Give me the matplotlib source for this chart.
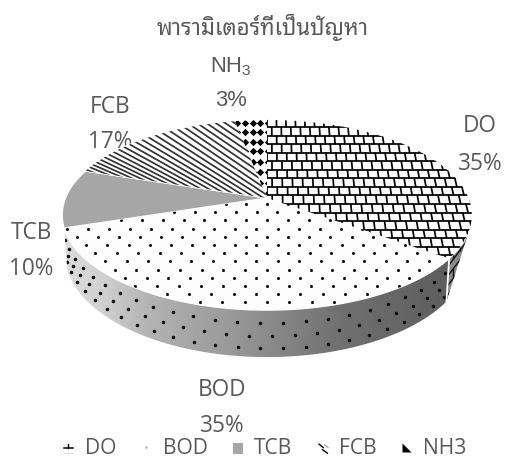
import numpy as np
import matplotlib
matplotlib.use("Agg")
import matplotlib.pyplot as plt
from matplotlib import font_manager as fm
from matplotlib.collections import LineCollection
from matplotlib.legend_handler import HandlerBase
from matplotlib.lines import Line2D
from matplotlib.patches import Polygon, Patch

# Share of each problem parameter (percent)
categories = ["DO", "BOD", "TCB", "FCB", "NH3"]
shares = [35, 35, 10, 17, 3]
label_names = ["DO", "BOD", "TCB", "FCB", "NH$_3$"]
chart_title = "พารามิเตอร์ที่เป็นปัญหา"

installed = {f.name for f in fm.fontManager.ttflist}
thai = [n for n in ["Noto Sans Thai Looped", "Sarabun", "Noto Sans Thai", "Anuphan"] if n in installed]
plt.rcParams["font.family"] = ["Open Sans", "DejaVu Sans"]
plt.rcParams["mathtext.default"] = "regular"
GREY = "#595959"
SIZE = 16.3

# Projection of the pie plane: centre, half axes and perspective strength
CX, CY, A, B, P = 267.0, 198.0, 201.5, 92.0, 0.179
DEPTH = 38.6


def top(theta):
    u, v = np.sin(theta), np.cos(theta)
    w = 1 + P * v
    return CX + A * u / w, CY - B * v / w


def low(theta, narrow=0.985):
    u, v = np.sin(theta), np.cos(theta)
    w = 1 + P * v
    return CX + narrow * A * u / w, CY + (DEPTH - B * v) / w


def texture_x(index, y, pitch, k):
    return CX + index * pitch * (1 + k * (y - 190))


fig = plt.figure(figsize=(5.05, 4.59), dpi=100)
ax = fig.add_axes([0, 0, 1, 1])
ax.set_xlim(0, 505)
ax.set_ylim(459, 0)
ax.axis("off")

edges = np.radians(np.concatenate([[0], np.cumsum(shares)]) * 3.6)
wedges = {}
for name, a0, a1 in zip(categories, edges[:-1], edges[1:]):
    t = np.linspace(a0, a1, 120)
    xs, ys = top(t)
    wedges[name] = np.column_stack([np.r_[CX, xs], np.r_[CY, ys]])

# Side wall, visible along the near part of the rim
side_start = edges[1]
side_end = edges[2]
t = np.linspace(side_start, side_end, 200)
tx, ty = top(t)
lx, ly = low(t)
side_bod = Polygon(np.column_stack([np.r_[tx, lx[::-1]], np.r_[ty, ly[::-1]]]),
                   closed=True, fc="none", ec="none")
ax.add_patch(side_bod)
ramp_x = np.array([60, 100, 150, 230, 340, 460])
ramp_v = np.array([0.87, 0.82, 0.70, 0.60, 0.44, 0.36])
ramp = np.interp(np.linspace(60, 470, 400), ramp_x, ramp_v)[None, :]
grad = ax.imshow(ramp, cmap="gray", vmin=0, vmax=1, extent=(60, 470, 370, 220),
                 aspect="auto", zorder=1, interpolation="bilinear")
grad.set_clip_path(side_bod)
ax.set_xlim(0, 505)
ax.set_ylim(459, 0)

# Dots printed on the side wall
pts = []
for row, z in enumerate([13, 26, 38.5]):
    for a in np.arange(side_start + 0.03 + 0.047 * (row % 2), side_end, 0.094):
        x, y = top(a)
        w = 1 + P * np.cos(a)
        pts.append((x + (low(a)[0] - x) * z / 47, y + z * 0.82 / w))
pts = np.array(pts)
dots = ax.scatter(pts[:, 0], pts[:, 1], s=6.5, c="#111111", linewidths=0, zorder=2)
dots.set_clip_path(side_bod)

# Narrow side section of the DO slice
t = np.linspace(np.radians(108), side_start, 40)
tx, ty = top(t)
ex, ey = low(side_start)
side_do = Polygon(np.column_stack([np.r_[tx, ex], np.r_[ty, ey]]), closed=True,
                  fc="#8a8a8a", ec="none", zorder=1)
ax.add_patch(side_do)
seg = []
for y0 in np.arange(200, 320, 9.5):
    seg.append([(430, y0 + 33), (480, y0 - 33)])
for x0 in np.arange(440, 480, 6.5):
    for y0 in np.arange(225, 310, 19):
        seg.append([(x0, y0 + (x0 - 440) * -1.1), (x0, y0 + 9.5 + (x0 - 440) * -1.1)])
side_lines = LineCollection(seg, colors="#111111", linewidths=1.0, zorder=2)
ax.add_collection(side_lines)
side_lines.set_clip_path(side_do)
ax.add_line(Line2D([top(side_start)[0], ex], [top(side_start)[1], ey], color="white", lw=1.3, zorder=3))

# Top faces
fills = {"DO": "white", "BOD": "#fdfdfd", "TCB": "#a6a6a6", "FCB": "white", "NH3": "white"}
faces = {}
for name in categories:
    poly = Polygon(wedges[name], closed=True, fc=fills[name], ec="white", lw=1.0, zorder=4)
    ax.add_patch(poly)
    faces[name] = poly

# BOD: staggered dots
ys = np.arange(122, 318, 8.2)
pts = []
for r, y in enumerate(ys):
    for i in np.arange(-13, 13) + 0.5 * (r % 2):
        pts.append((texture_x(i, y, 20.3, 0.0009), y))
pts = np.array(pts)
d = ax.scatter(pts[:, 0], pts[:, 1], s=5.0, c="#111111", linewidths=0, zorder=5)
d.set_clip_path(faces["BOD"])

# DO: brick courses
seg = []
rows = np.arange(118.5, 275, 8.55)
for r, y in enumerate(rows):
    seg.append([(CX, y), (480, y)])
    y2 = y + 8.55
    for i in np.arange(0, 22) + 0.5 * (r % 2):
        seg.append([(texture_x(i, y, 10.3, 0.0012), y), (texture_x(i, y2, 10.3, 0.0012), y2)])
bricks = LineCollection(seg, colors="black", linewidths=1.25, zorder=5)
ax.add_collection(bricks)
bricks.set_clip_path(faces["DO"])

# FCB: slanted stripes
seg = []
for x0 in np.arange(-40, 330, 9.4):
    m = np.clip(0.45 + 0.22 * (x0 - 90) / 130, 0.42, 0.68)
    seg.append([(x0 - 120, 160 - 120 * m), (x0 + 120, 160 + 120 * m)])
stripes = LineCollection(seg, colors="#333333", linewidths=1.25, zorder=5)
ax.add_collection(stripes)
stripes.set_clip_path(faces["FCB"])

# NH3: diamond grid
pts = np.array([(x, y) for y in (123, 132, 142, 151, 162, 172, 183, 193)
                for x in (229, 237, 245, 253, 260, 268)])
dm = ax.scatter(pts[:, 0], pts[:, 1], s=14, marker="D", c="black", linewidths=0, zorder=5)
dm.set_clip_path(faces["NH3"])

# Titles and data labels
ax.text(263, 27.5, chart_title, ha="center", va="center", fontsize=16, color=GREY,
        fontweight="bold", family=thai[:1] + ["DejaVu Sans"])
label_pos = {"DO": (480, 126.5, 163.5), "BOD": (222, 390.5, 425.5), "TCB": (31, 233, 269),
             "FCB": (110, 107, 142), "NH3": (231, 67, 100.5)}
for key, name, share in zip(categories, label_names, shares):
    x, y0, y1 = label_pos[key]
    family = ["Liberation Sans"] if key == "NH3" else None
    size = 15.8 if key == "NH3" else SIZE
    ax.text(x, y0, name, ha="center", va="center", fontsize=size, color=GREY, family=family)
    ax.text(x, y1, f"{share}%", ha="center", va="center", fontsize=size, color=GREY, family=family)


# Legend keys with miniature textures
class KeyHandler(HandlerBase):
    def create_artists(self, legend, orig, xd, yd, w, h, fs, trans):
        kind = orig.get_label()
        cy = h * 0.42
        out = []
        if kind == "DO":
            out.append(Line2D([0, w], [cy, cy], color="black", lw=1.1, transform=trans))
            out.append(Line2D([w / 2, w / 2], [cy, cy + 3], color="black", lw=1.0, transform=trans))
            out.append(Line2D([0, w], [cy - 3.5, cy - 3.5], color="#dddddd", lw=0.8, transform=trans))
        elif kind == "BOD":
            out.append(Line2D([w / 2], [cy + 1], marker="o", ms=1, color="#bbbbbb", lw=0, transform=trans))
        elif kind == "TCB":
            out.append(Polygon([(0, cy - 4), (w, cy - 4), (w, cy + 4), (0, cy + 4)], fc="#a6a6a6", ec="none", transform=trans))
        elif kind == "FCB":
            out.append(Line2D([1, 4], [cy + 3, cy + 0.5], color="black", lw=1.0, transform=trans))
            out.append(Line2D([3.5, 7], [cy - 1, cy - 3.5], color="black", lw=1.0, transform=trans))
            out.append(Line2D([5, 7.5], [cy + 2.5, cy + 0.5], color="#999999", lw=0.8, transform=trans))
        else:
            out.append(Polygon([(0.5, cy - 3), (7, cy - 3), (0.5, cy + 3.5)], fc="black", ec="none", transform=trans))
        return out


handles = [Patch(label=c) for c in categories]
ax.legend(handles=handles, labels=categories, handler_map={Patch: KeyHandler()},
          loc="center", bbox_to_anchor=(265 / 505, 1 - 449 / 459), ncols=5, frameon=False,
          fontsize=SIZE * 0.93, labelcolor=GREY, handlelength=0.46, handleheight=0.7,
          handletextpad=0.55, columnspacing=1.2, borderpad=0, borderaxespad=0)

fig.savefig("out.png", dpi=100)
